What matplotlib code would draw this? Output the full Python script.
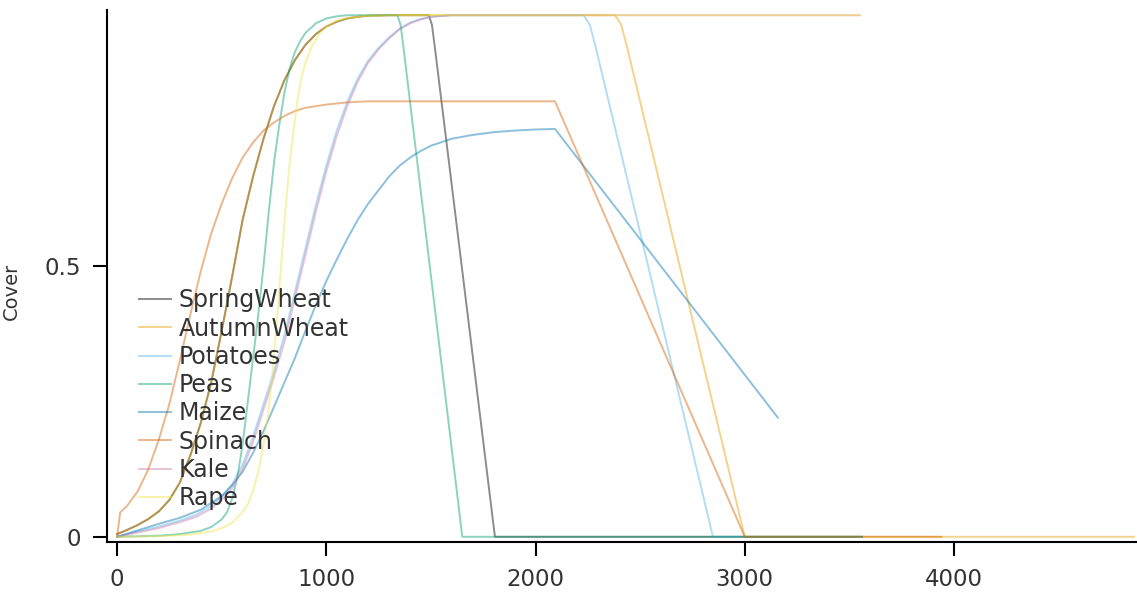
import matplotlib
matplotlib.use("Agg")
import matplotlib.pyplot as plt

# Crop cover curves (x = time since sowing, y = fraction of ground covered)
crops = ["SpringWheat", "AutumnWheat", "Potatoes", "Peas", "Maize", "Spinach", "Kale", "Rape"]
colors = ["#000000", "#E69F00", "#56B4E9", "#009E73", "#0072B2", "#D55E00", "#CC79A7", "#F0E442"]

wheat_rise_x = [0, 50, 100, 150, 200, 250, 300, 350, 400, 450, 500, 550, 600, 650, 700, 750,
                800, 850, 900, 950, 1000, 1050, 1100, 1150, 1200, 1300]
wheat_rise_y = [0.005, 0.013, 0.022, 0.033, 0.047, 0.068, 0.1, 0.15, 0.21, 0.285, 0.38, 0.48,
                0.585, 0.665, 0.735, 0.795, 0.843, 0.88, 0.908, 0.928, 0.942, 0.951, 0.957,
                0.96, 0.962, 0.963]

spring_wheat_x = wheat_rise_x + [1490, 1505, 1520, 1806, 3560]
spring_wheat_y = wheat_rise_y + [0.963, 0.945, 0.90, 0.0, 0.0]

autumn_wheat_x = wheat_rise_x + [2380, 2410, 2440, 3000, 4860]
autumn_wheat_y = wheat_rise_y + [0.963, 0.945, 0.90, 0.0, 0.0]

potatoes_x = [0, 100, 200, 300, 380, 450, 500, 550, 600, 650, 700, 750, 800, 850, 900, 950,
              1000, 1050, 1100, 1150, 1200, 1250, 1300, 1350, 1400, 1450, 1500, 1600,
              2230, 2260, 2290, 2848, 3560]
potatoes_y = [0.0, 0.01, 0.019, 0.03, 0.041, 0.057, 0.074, 0.097, 0.133, 0.185, 0.245, 0.305,
              0.372, 0.452, 0.532, 0.612, 0.685, 0.75, 0.803, 0.846, 0.879, 0.903, 0.922,
              0.938, 0.949, 0.956, 0.96, 0.963, 0.963, 0.945, 0.90, 0.0, 0.0]

peas_x = [0, 100, 200, 300, 400, 450, 500, 525, 550, 575, 600, 625, 650, 675, 700, 725, 750,
          775, 800, 825, 850, 875, 900, 950, 1000, 1050, 1100, 1340, 1355, 1370, 1650, 3560]
peas_y = [0.0, 0.001, 0.002, 0.005, 0.011, 0.018, 0.032, 0.045, 0.07, 0.11, 0.17, 0.25, 0.33,
          0.41, 0.5, 0.6, 0.69, 0.76, 0.82, 0.865, 0.895, 0.915, 0.93, 0.948, 0.957, 0.961,
          0.963, 0.963, 0.945, 0.90, 0.0, 0.0]

maize_x = [0, 100, 200, 300, 400, 500, 550, 600, 650, 700, 750, 800, 850, 900, 950, 1000, 1050,
           1100, 1150, 1200, 1250, 1300, 1350, 1400, 1450, 1500, 1600, 1700, 1800, 1900, 2000,
           2093, 3158]
maize_y = [0.0, 0.012, 0.024, 0.035, 0.05, 0.075, 0.095, 0.12, 0.155, 0.195, 0.24, 0.285, 0.33,
           0.38, 0.428, 0.472, 0.512, 0.55, 0.585, 0.615, 0.64, 0.665, 0.685, 0.7, 0.712, 0.722,
           0.735, 0.742, 0.747, 0.75, 0.752, 0.753, 0.22]

spinach_x = [0, 15, 50, 100, 150, 200, 250, 300, 350, 400, 450, 500, 550, 600, 650, 700, 750,
             800, 850, 900, 1000, 1100, 1200, 2093, 3000, 3940]
spinach_y = [0.0, 0.045, 0.058, 0.085, 0.125, 0.18, 0.245, 0.325, 0.41, 0.49, 0.56, 0.615, 0.662,
             0.7, 0.728, 0.75, 0.765, 0.777, 0.786, 0.792, 0.798, 0.802, 0.804, 0.804, 0.0, 0.0]

kale_x = [0, 100, 200, 300, 380, 450, 500, 550, 600, 650, 700, 750, 800, 850, 900, 950, 1000,
          1050, 1100, 1150, 1200, 1250, 1300, 1350, 1400, 1450, 1500, 1600, 3550]
kale_y = [0.0, 0.008, 0.016, 0.027, 0.037, 0.052, 0.068, 0.09, 0.125, 0.175, 0.235, 0.295, 0.36,
          0.44, 0.52, 0.6, 0.675, 0.74, 0.795, 0.84, 0.875, 0.9, 0.92, 0.937, 0.948, 0.955,
          0.96, 0.963, 0.963]

rape_x = [0, 200, 350, 450, 500, 550, 600, 625, 650, 675, 700, 720, 740, 760, 780, 800, 820,
          840, 860, 880, 900, 930, 970, 1000, 1050, 1100, 1200, 1300, 3550]
rape_y = [0.0, 0.001, 0.004, 0.01, 0.016, 0.026, 0.045, 0.06, 0.085, 0.12, 0.17, 0.22, 0.29,
          0.38, 0.48, 0.58, 0.67, 0.74, 0.8, 0.845, 0.875, 0.905, 0.93, 0.942, 0.953, 0.958,
          0.962, 0.963, 0.963]

series = [
    (spring_wheat_x, spring_wheat_y),
    (autumn_wheat_x, autumn_wheat_y),
    (potatoes_x, potatoes_y),
    (peas_x, peas_y),
    (maize_x, maize_y),
    (spinach_x, spinach_y),
    (kale_x, kale_y),
    (rape_x, rape_y),
]

fig = plt.figure(figsize=(11.37, 5.99), dpi=100)
ax = fig.add_axes([107 / 1137, 57 / 599, 1037 / 1137, 532 / 599])

for name, color, (xs, ys) in zip(crops, colors, series):
    ax.plot(xs, ys, color=color, alpha=0.45, lw=1.4, label=name)

ax.set_xlim(-48, 4908)
ax.set_ylim(-0.0096, 0.9726)
ax.set_xticks([0, 1000, 2000, 3000, 4000])
ax.set_yticks([0, 0.5])
ax.set_yticklabels(["0", "0.5"])
ax.set_ylabel("Cover", fontsize=14, color="#333333")
ax.yaxis.set_label_coords(-0.0835, 0.472)

for side in ["top", "right"]:
    ax.spines[side].set_visible(False)
for side in ["left", "bottom"]:
    ax.spines[side].set_linewidth(1.5)
ax.tick_params(axis="both", direction="out", length=10, width=1.5, labelsize=16.5,
               labelcolor="#333333", pad=9)

ax.legend(loc="lower left", bbox_to_anchor=(0.031, 0.06), frameon=False, fontsize=17,
          handlelength=1.33, handletextpad=0.33, labelspacing=0.18, borderpad=0,
          borderaxespad=0, labelcolor="#333333")

fig.savefig("out.png", dpi=100)
